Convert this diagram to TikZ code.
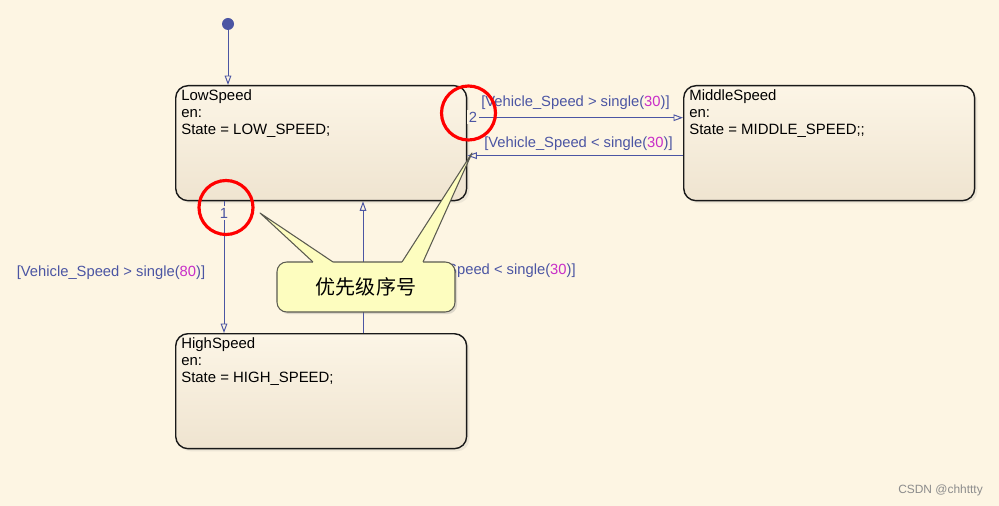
\documentclass[tikz,border=0pt]{standalone}
\usepackage{fontspec}
\setmainfont{Liberation Sans}
\newfontfamily\cjkfont{Noto Sans CJK SC}
\usetikzlibrary{arrows.meta,shadows}

\definecolor{bgcream}{HTML}{FDF5E3}
\definecolor{stateTop}{HTML}{FCF5E6}
\definecolor{stateBottom}{HTML}{EFE4D0}
\definecolor{transblue}{HTML}{4B55A3}
\definecolor{numpink}{HTML}{C82EC8}
\definecolor{notefill}{HTML}{FDFDBF}
\definecolor{noteline}{HTML}{5A5A50}
\definecolor{wmgray}{HTML}{8C8C8C}

\newcommand{\guardtxt}[2]{[Vehicle\_Speed #1 single(\textcolor{numpink}{#2})]}

\begin{document}
\begin{tikzpicture}[x=0.02cm, y=-0.02cm,
                        statebox/.style={
                            draw=black!90,
                            line width=0.8pt,
                            rounded corners=7pt,
                            top color=stateTop,
                            bottom color=stateBottom,
                            minimum width=5.82cm,
                            minimum height=2.3cm,
                            anchor=north west,
                            drop shadow={opacity=0.12, shadow xshift=1.5pt, shadow yshift=-1.5pt}
                        },
                        statetext/.style={
                            anchor=north west,
                            inner sep=0pt,
                            align=left,
                            font=\fontsize{8.5}{9.67}\selectfont
                        },
                        trans/.style={
                            draw=transblue,
                            line width=0.55pt,
                            -{Triangle[open, length=5.4pt, width=3.8pt]}
                        },
                        guard/.style={
                            text=transblue,
                            inner sep=0pt,
                            font=\fontsize{8.4}{10}\selectfont
                        },
                        prio/.style={
                            text=transblue,
                            fill=bgcream,
                            inner sep=1pt,
                            font=\fontsize{8.4}{10}\selectfont
                        },
                        ring/.style={
                            circle,
                            draw=red,
                            line width=1.8pt,
                            minimum size=1.08cm,
                            inner sep=0pt
                        },
                        callout/.style={
                            draw=noteline,
                            line width=0.6pt,
                            fill=notefill,
                            rounded corners=5.5pt,
                            minimum width=3.56cm,
                            minimum height=1.0cm,
                            font=\cjkfont\fontsize{11.4}{12}\selectfont,
                            drop shadow={opacity=0.25, shadow xshift=1.2pt, shadow yshift=-1.2pt}
                        }
                    ]

                    % Background
                    \fill[bgcream] (0,0) rectangle (999,506);
                    \useasboundingbox (0,0) rectangle (999,506);

                    % States
                    \node[statebox] (low) at (175,85) {};
                    \node[statetext] (lowtxt) at ([xshift=3.4pt, yshift=-2.6pt] low.north west)
                        {LowSpeed\\en:\\State = LOW\_SPEED;};

                    \node[statebox] (mid) at (683,85) {};
                    \node[statetext] (midtxt) at ([xshift=3.4pt, yshift=-2.6pt] mid.north west)
                        {MiddleSpeed\\en:\\State = MIDDLE\_SPEED;;};

                    \node[statebox] (high) at (175,333) {};
                    \node[statetext] (hightxt) at ([xshift=3.4pt, yshift=-2.6pt] high.north west)
                        {HighSpeed\\en:\\State = HIGH\_SPEED;};

                    % Default transition
                    \node[circle, fill=transblue, minimum size=0.24cm, inner sep=0pt] (init) at (228,24) {};
                    \draw[trans] (init) -- (init |- low.north);

                    % LowSpeed <-> MiddleSpeed
                    \draw[trans] ([yshift=14.5pt] low.east) -- ([yshift=14.5pt] mid.west);
                    \draw[trans] ([yshift=-7.1pt] mid.west) -- ([yshift=-7.1pt] low.east);
                    \node[prio] (p2) at (473,117) {2};
                    \node[guard] (g1) at (575.5,103) {\guardtxt{>}{30}};
                    \node[guard] (g2) at (578.5,144) {\guardtxt{<}{30}};

                    % LowSpeed <-> HighSpeed
                    \draw[trans] (224,0 |- low.south) -- (224,0 |- high.north);
                    \draw[trans] (363,0 |- high.north) -- (363,0 |- low.south);
                    \node[prio] (p1) at (224,213) {1};
                    \node[guard] (g3) at (111,273) {\guardtxt{>}{80}};
                    \node[guard] (g4) at (481.5,271) {\guardtxt{<}{30}};

                    % Callout
                    \coordinate (tipA) at (260,213);
                    \coordinate (tipB) at (472,153);
                    \node[callout] (note) at (366,287) {优先级序号};
                    \fill[notefill] (313,266) -- (313,262) -- (tipA) -- (333,262) -- (333,266) -- cycle;
                    \draw[noteline, line width=0.6pt, line join=round] (313,262) -- (tipA) -- (333,262);
                    \fill[notefill] (402,266) -- (402,262) -- (tipB) -- (423,262) -- (423,266) -- cycle;
                    \draw[noteline, line width=0.6pt, line join=round] (402,262) -- (tipB) -- (423,262);

                    % Priority marks
                    \node[ring] (ring2) at (468.5,113) {};
                    \node[ring] (ring1) at (226,207.5) {};

                    % Watermark
                    \node[text=wmgray, inner sep=0pt, font=\fontsize{6.8}{8}\selectfont] (wm) at (940.5,490) {CSDN @chhttty};
                    \end{tikzpicture}
\end{document}
